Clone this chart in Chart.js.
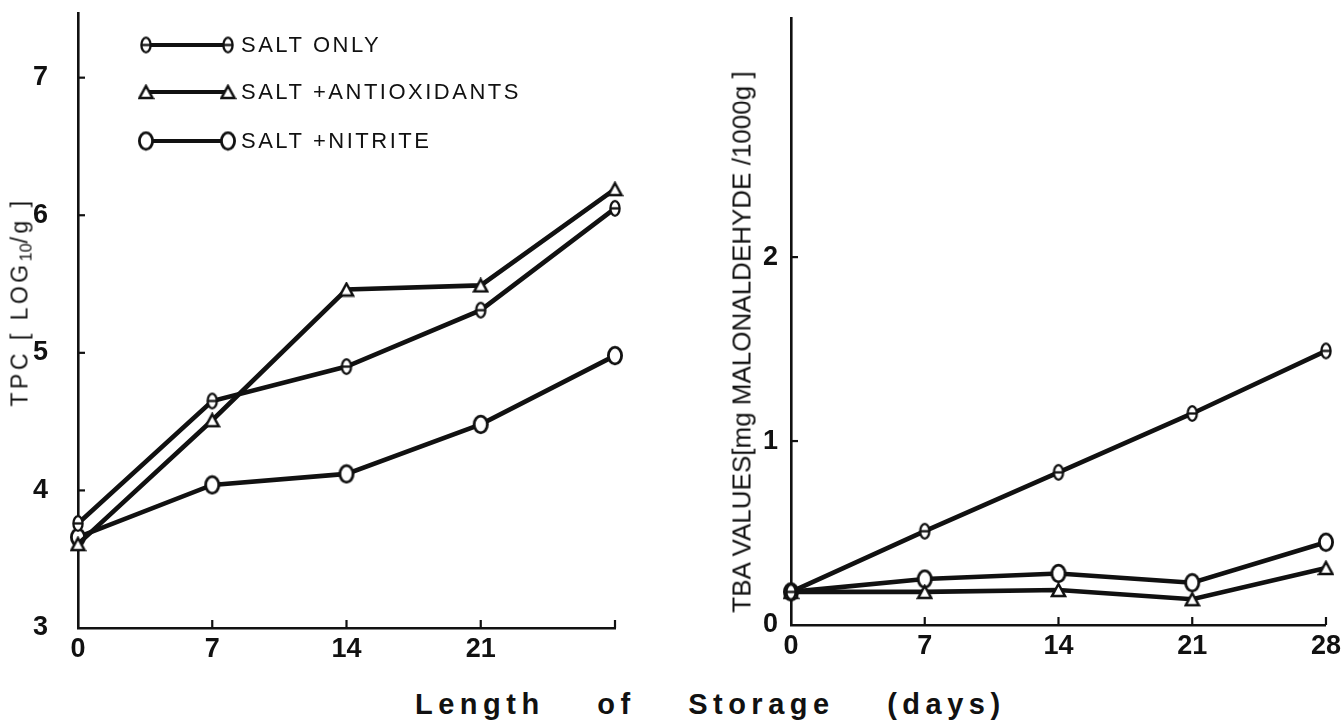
<!DOCTYPE html>
<html>
<head>
<meta charset="utf-8">
<script src="https://cdn.jsdelivr.net/npm/chart.js@4.4.1/dist/chart.umd.min.js"></script>
<style>
  body{margin:0;background:#fff;width:1343px;height:720px;overflow:hidden;position:relative;font-family:"Liberation Sans",Arial,sans-serif;color:#111}
  canvas{position:absolute;top:0}
  #tpc{left:0}
  #tba{left:690px}
  .ytitle{position:absolute;white-space:nowrap;transform:translate(-50%,-50%) rotate(-90deg)}
  .ytitle sub{font-size:0.7em;vertical-align:-0.25em;letter-spacing:0}
  #xtitle{position:absolute;left:415px;top:704px;transform:translateY(-50%);white-space:nowrap;font-weight:bold;font-size:29px;letter-spacing:5.5px;word-spacing:39px}
</style>
</head>
<body>
<canvas id="tpc" width="635" height="668"></canvas>
<canvas id="tba" width="656" height="665"></canvas>
<div class="ytitle" style="left:21px;top:302px;font-size:23px;letter-spacing:3.5px">TPC [ LOG<sub>10</sub>/g ]</div>
<div class="ytitle" style="left:742px;top:342px;font-size:26px">TBA VALUES[mg MALONALDEHYDE /1000g ]</div>
<div id="xtitle">Length of Storage (days)</div>
<script>
// storage days and the three treatments
const days = [0, 7, 14, 21, 28];
const seriesNames = ['SALT ONLY', 'SALT +ANTIOXIDANTS', 'SALT +NITRITE'];

// total plate count, log10/g
const tpcSaltOnly = [3.76, 4.65, 4.90, 5.31, 6.05];
const tpcAntiox = [3.61, 4.51, 5.46, 5.49, 6.19];
const tpcNitrite = [3.66, 4.04, 4.12, 4.48, 4.98];

// TBA values, mg malonaldehyde / 1000 g
const tbaSaltOnly = [0.18, 0.51, 0.83, 1.15, 1.49];
const tbaAntiox = [0.18, 0.18, 0.19, 0.14, 0.31];
const tbaNitrite = [0.18, 0.25, 0.28, 0.23, 0.45];

const tpcTicks = [3, 4, 5, 6, 7];
const tbaTicks = [0, 1, 2];
const tpcDayLabels = ['0', '7', '14', '21', ''];
const tbaDayLabels = ['0', '7', '14', '21', '28'];

const INK = '#111';
const TICK_FONT = {family: '"Liberation Sans", Arial, sans-serif', size: 27, weight: 'bold'};

function marker(w, h, draw){
  const c = document.createElement('canvas');
  c.width = w; c.height = h;
  const g = c.getContext('2d');
  g.strokeStyle = INK; g.fillStyle = '#fff';
  draw(g, w, h);
  return c;
}

// oval with a bar through it
const thetaMark = marker(14, 19, (g, w, h) => {
  g.lineWidth = 2.3;
  g.beginPath(); g.ellipse(w/2, h/2, 4.6, 7.3, 0, 0, Math.PI*2); g.fill(); g.stroke();
  g.beginPath(); g.moveTo(w/2-4.6, h/2); g.lineTo(w/2+4.6, h/2); g.stroke();
});
const triMark = marker(17, 16, (g, w, h) => {
  g.lineWidth = 2.5;
  g.beginPath(); g.moveTo(w/2, 2); g.lineTo(w-2, h-2); g.lineTo(2, h-2); g.closePath();
  g.fill(); g.stroke();
});
const circMark = marker(18, 21, (g, w, h) => {
  g.lineWidth = 2.8;
  g.beginPath(); g.ellipse(w/2, h/2, 6.6, 8.4, 0, 0, Math.PI*2); g.fill(); g.stroke();
});
const marks = [thetaMark, triMark, circMark];

function series(values, i){
  return {
    label: seriesNames[i],
    data: values.map((v, k) => ({x: days[k], y: v})),
    borderColor: INK,
    borderWidth: 4.6,
    pointStyle: marks[i],
    clip: false,
    tension: 0
  };
}

// short tick marks pointing into the plot
const innerTicks = {
  id: 'innerTicks',
  afterDraw(chart){
    const {ctx, chartArea: a, scales: {x, y}} = chart;
    ctx.save();
    ctx.strokeStyle = INK;
    ctx.lineWidth = 2.2;
    x.ticks.forEach(t => {
      if (t.value === x.min) return;
      const px = x.getPixelForValue(t.value);
      ctx.beginPath(); ctx.moveTo(px, a.bottom); ctx.lineTo(px, a.bottom - 8); ctx.stroke();
    });
    y.ticks.forEach(t => {
      if (t.value === y.min) return;
      const py = y.getPixelForValue(t.value);
      ctx.beginPath(); ctx.moveTo(a.left, py); ctx.lineTo(a.left + 7, py); ctx.stroke();
    });
    ctx.restore();
  }
};

// legend samples drawn inside the TPC plot
const sampleLegend = {
  id: 'sampleLegend',
  afterDraw(chart){
    const ctx = chart.ctx;
    const rows = [45, 92, 141];
    ctx.save();
    ctx.strokeStyle = INK;
    ctx.lineWidth = 4.2;
    ctx.fillStyle = INK;
    ctx.font = '22px "Liberation Sans", Arial, sans-serif';
    ctx.letterSpacing = '2.5px';
    ctx.textBaseline = 'middle';
    chart.data.datasets.forEach((ds, i) => {
      const y = rows[i];
      ctx.beginPath(); ctx.moveTo(146, y); ctx.lineTo(228, y); ctx.stroke();
      const m = ds.pointStyle;
      ctx.drawImage(m, 146 - m.width/2, y - m.height/2);
      ctx.drawImage(m, 228 - m.width/2, y - m.height/2);
      ctx.fillText(ds.label, 241, y + 1);
    });
    ctx.restore();
  }
};

function makeChart(id, sets, yMax, yTicks, dayLabels, yWidth, padTop, padRight, yPad, extra){
  return new Chart(document.getElementById(id), {
    type: 'line',
    data: {datasets: sets},
    plugins: [innerTicks].concat(extra),
    options: {
      responsive: false,
      animation: false,
      layout: {padding: {top: padTop, right: padRight, left: 0, bottom: 0}},
      plugins: {legend: {display: false}, tooltip: {enabled: false}},
      scales: {
        x: {
          type: 'linear', min: 0, max: 28,
          afterBuildTicks: s => { s.ticks = days.map(v => ({value: v})); },
          afterFit: s => { s.height = 40; },
          grid: {display: false, drawTicks: false},
          border: {color: INK, width: 2.6},
          ticks: {padding: 5, color: INK, font: TICK_FONT, callback: (v, i) => dayLabels[i]}
        },
        y: {
          type: 'linear', min: yTicks[0], max: yMax,
          afterBuildTicks: s => { s.ticks = yTicks.map(v => ({value: v})); },
          // fixed axis width; label padding must not push the plot top down
          afterFit: s => { s.width = yWidth; s.paddingTop = 0; s.paddingBottom = 0; },
          grid: {display: false, drawTicks: false},
          border: {color: INK, width: 2.6},
          ticks: {padding: yPad, color: INK, font: TICK_FONT}
        }
      }
    }
  });
}

makeChart('tpc',
  [series(tpcSaltOnly, 0), series(tpcAntiox, 1), series(tpcNitrite, 2)],
  7.47, tpcTicks, tpcDayLabels, 78, 13, 20, 30, [sampleLegend]);

makeChart('tba',
  [series(tbaSaltOnly, 0), series(tbaAntiox, 1), series(tbaNitrite, 2)],
  3.3, tbaTicks, tbaDayLabels, 101, 18, 14, 13, []);
</script>
</body>
</html>
